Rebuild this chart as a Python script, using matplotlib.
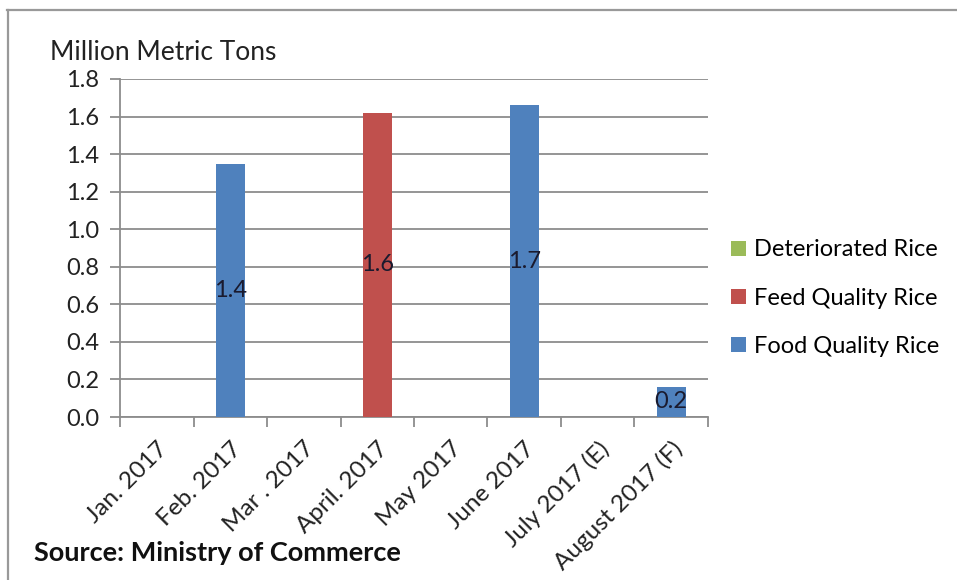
import matplotlib.pyplot as plt
import numpy as np
from matplotlib.lines import Line2D

plt.rcParams['font.family'] = ['Lato', 'DejaVu Sans']

months = ['Jan. 2017', 'Feb. 2017', 'Mar . 2017', 'April. 2017', 'May 2017',
          'June 2017', 'July 2017 (E)', 'August 2017 (F)']
food = [0, 1.35, 0, 0, 0, 1.66, 0, 0.16]
feed = [0, 0, 0, 1.62, 0, 0, 0, 0]
deteriorated = [0, 0, 0, 0, 0, 0, 0, 0]

blue = '#4F81BD'
red = '#C0504D'
green = '#9BBB59'

fig = plt.figure(figsize=(9.57, 5.8), dpi=100)
ax = fig.add_axes([0.1254, 0.281, 0.6144, 0.5828])

x = np.arange(len(months))
food = np.array(food)
feed = np.array(feed)
deteriorated = np.array(deteriorated)

b1 = ax.bar(x, food, width=0.4, color=blue, label='Food Quality Rice', zorder=3)
b2 = ax.bar(x, feed, width=0.4, bottom=food, color=red, label='Feed Quality Rice', zorder=3)
b3 = ax.bar(x, deteriorated, width=0.4, bottom=food + feed, color=green,
            label='Deteriorated Rice', zorder=3)

for bars, vals in [(b1, food), (b2, feed)]:
    labs = ['%.1f' % v if v > 0 else '' for v in vals]
    ax.bar_label(bars, labels=labs, label_type='center', fontsize=17, color='#1a1a2e')

ax.set_xlim(-0.5, len(months) - 0.5)
ax.set_ylim(0, 1.8)
ax.set_yticks(np.arange(0, 1.81, 0.2))
ax.set_yticklabels(['%.1f' % v for v in np.arange(0, 1.81, 0.2)], fontsize=17, color='#222222')
ax.yaxis.grid(True, color='#8c8c8c', linewidth=1.3, zorder=0)

ax.set_xticks(np.arange(-0.5, len(months), 1.0))
ax.set_xticklabels([])
ax.set_xticks(x, minor=True)
ax.set_xticklabels(months, minor=True, rotation=45, ha='right', rotation_mode='anchor',
                   fontsize=17.5, color='#222222')
ax.tick_params(axis='x', which='minor', length=0, pad=15)
ax.tick_params(axis='x', which='major', length=7, color='#8c8c8c', width=1.3)
ax.tick_params(axis='y', length=7, color='#8c8c8c', width=1.3, pad=8)

for s in ['top', 'right']:
    ax.spines[s].set_visible(False)
ax.spines['left'].set_color('#8c8c8c')
ax.spines['bottom'].set_color('#8c8c8c')
ax.spines['left'].set_linewidth(1.3)
ax.spines['bottom'].set_linewidth(1.3)

fig.text(0.052, 0.91, 'Million Metric Tons', fontsize=19, color='#222222', va='center')
fig.text(0.036, 0.047, 'Source: Ministry of Commerce', fontsize=19.5, fontweight='bold',
         color='#111111', va='center')

handles = [b3, b2, b1]
fig.legend(handles=handles, labels=[h.get_label() for h in handles],
           loc='center left', bbox_to_anchor=(0.742, 0.486), frameon=False,
           fontsize=17, handlelength=0.6, handleheight=0.6, handletextpad=0.35,
           labelspacing=1.15)

fig.add_artist(Line2D([0.007, 1.0], [0.982, 0.982], color='#999999', linewidth=1.6))
fig.add_artist(Line2D([0.008, 0.008], [0.0, 0.982], color='#999999', linewidth=1.6))

fig.savefig('out.png', dpi=100)
